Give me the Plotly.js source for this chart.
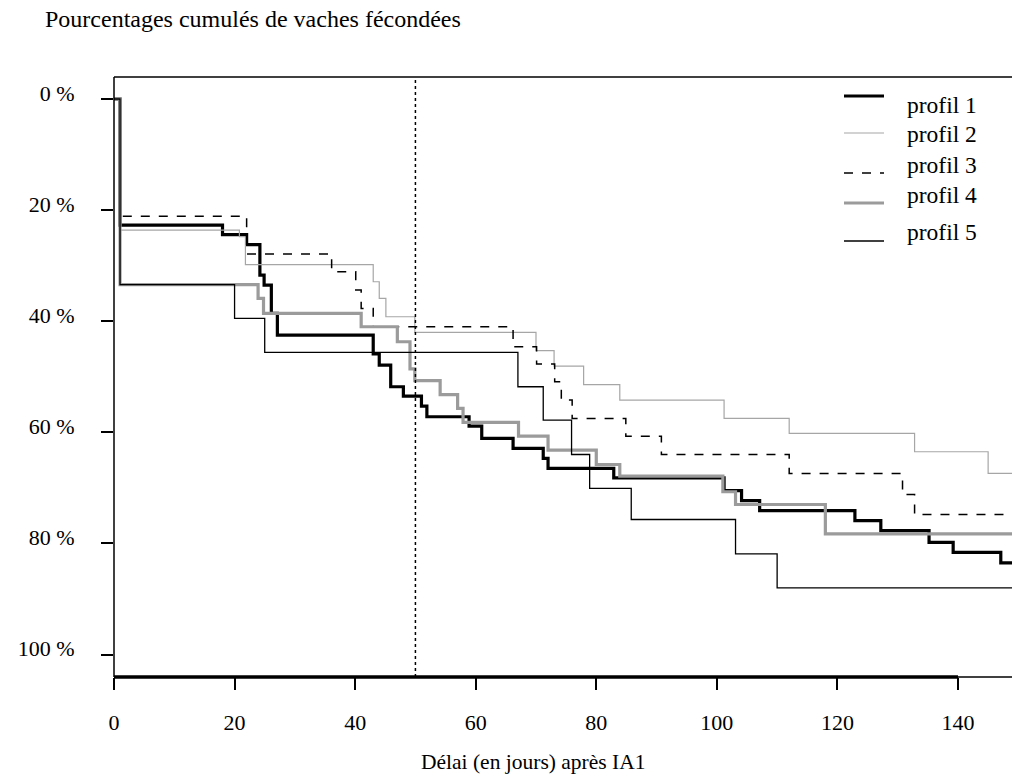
<!DOCTYPE html>
<html>
<head>
<meta charset="utf-8">
<script src="https://cdn.plot.ly/plotly-3.0.1.min.js"></script>
<style>
  html, body { margin: 0; padding: 0; background: #ffffff; }
  #chart { width: 1012px; height: 782px; }
</style>
</head>
<body>
<div id="chart"></div>
<script>
// ---- Data ----
const seriesNames = ["profil 1", "profil 2", "profil 3", "profil 4", "profil 5"];

const days1 = [0, 1, 18, 22, 24.2, 24.9, 26.1, 27.1, 43, 44, 45.9, 48, 51, 51.9, 58.9, 61, 66.2, 71.2, 72, 82.9, 101.2, 104.1, 107.1, 122.9, 127.2, 135.2, 139.2, 147.1, 150];
const pct1  = [0, 22.7, 24.4, 26.2, 31.7, 33.5, 38.6, 42.5, 45.9, 47.9, 51.8, 53.5, 55.3, 57.2, 58.9, 61.1, 62.9, 64.7, 66.5, 68.2, 70.5, 72.3, 74.1, 75.9, 77.7, 79.8, 81.6, 83.5, 83.5];

const days2 = [0, 1, 20.8, 21.8, 43, 44, 45.1, 49.9, 70, 73, 77.9, 83.9, 101.2, 112, 132.8, 145, 150];
const pct2  = [0, 23.6, 24.8, 29.8, 32.9, 35.9, 39.2, 42.0, 45.3, 48.1, 51.4, 54.2, 57.5, 60.2, 63.5, 67.4, 67.4];

const days3 = [0, 1, 22, 36.1, 40.1, 41, 43, 66.2, 70.1, 73.1, 74.2, 76, 84.9, 90.8, 112, 130.8, 132.8, 150];
const pct3  = [0, 21.1, 27.9, 31.1, 34.4, 37.7, 41.0, 44.6, 47.7, 50.9, 54.2, 57.5, 60.7, 64.0, 67.4, 71.2, 74.8, 74.8];

const days4 = [0, 1, 23.9, 24.8, 41, 47, 49.1, 49.9, 54.1, 57, 57.9, 67.1, 72, 80, 83.9, 101, 103.1, 118, 150];
const pct4  = [0, 33.4, 35.9, 38.6, 41.0, 43.7, 48.6, 50.7, 53.2, 55.7, 58.2, 60.7, 63.2, 65.8, 67.9, 70.7, 73.0, 78.3, 78.3];

const days5 = [0, 1, 20, 25, 67, 71.2, 75.9, 78.9, 85.8, 103.1, 110, 150];
const pct5  = [0, 33.4, 39.5, 45.6, 51.8, 57.8, 64.0, 70.1, 75.7, 81.9, 88.0, 88.0];

const xTickVals = [0, 20, 40, 60, 80, 100, 120, 140];
const yTickVals = [0, 20, 40, 60, 80, 100];
const yTickText = ["0 %", "20 %", "40 %", "60 %", "80 %", "100 %"];
const refDay = 50;

const chartTitle = "Pourcentages cumulés de vaches fécondées";
const xTitle = "Délai (en jours) après IA1";

// ---- Styles ----
const FONT = "Liberation Serif, Times New Roman, serif";
const styles = [
  {color: "#000000", width: 3.2, dash: "solid"},
  {color: "#a6a6a6", width: 1.2, dash: "solid"},
  {color: "#000000", width: 1.5, dash: "dash"},
  {color: "#9b9b9b", width: 3.2, dash: "solid"},
  {color: "#000000", width: 1.3, dash: "solid"}
];
const allDays = [days1, days2, days3, days4, days5];
const allPct = [pct1, pct2, pct3, pct4, pct5];

const traces = allDays.map((d, i) => ({
  type: "scatter",
  mode: "lines",
  x: d,
  y: allPct[i],
  name: seriesNames[i],
  line: {shape: "hv", color: styles[i].color, width: styles[i].width, dash: styles[i].dash},
  hoverinfo: "x+y+name",
  showlegend: false
}));

// plot area in page pixels
const L = 114, T = 77, R = 1012, B = 677;
const W = R - L, H = B - T;
const px = v => (v - L) / W;
const py = v => (B - v) / H;

const shapes = [
  // box: left, top, bottom (thin)
  {type: "line", xref: "paper", yref: "paper", x0: 0, x1: 0, y0: 0, y1: 1, line: {color: "#000", width: 1.5}},
  {type: "line", xref: "paper", yref: "paper", x0: 0, x1: 1.01, y0: 1, y1: 1, line: {color: "#000", width: 1.5}},
  {type: "line", xref: "paper", yref: "paper", x0: 0, x1: 1.01, y0: 0, y1: 0, line: {color: "#000", width: 1.5}},
  // thick x axis line spanning the ticks
  {type: "line", xref: "x", yref: "paper", x0: xTickVals[0], x1: xTickVals[xTickVals.length - 1], y0: 0, y1: 0, line: {color: "#000", width: 3.5}},
  // dotted reference line
  {type: "line", xref: "x", yref: "paper", x0: refDay, x1: refDay, y0: 0, y1: 1, line: {color: "#000", width: 1.5, dash: "dot"}}
];

// custom legend
const legLineY = [96, 133, 173, 203, 241];
const legTextY = [105, 134, 165, 195, 232];
const annotations = [];
seriesNames.forEach((n, i) => {
  shapes.push({type: "line", xref: "paper", yref: "paper", x0: px(844), x1: px(884), y0: py(legLineY[i]), y1: py(legLineY[i]),
    line: {color: styles[i].color, width: styles[i].width, dash: styles[i].dash === "dash" ? "dash" : "solid"}});
  annotations.push({xref: "paper", yref: "paper", x: px(905), y: py(legTextY[i]), xanchor: "left", yanchor: "middle",
    text: n, showarrow: false, font: {family: FONT, size: 23.5, color: "#000"}});
});
annotations.push({xref: "paper", yref: "paper", x: px(533), y: py(762), xanchor: "center", yanchor: "middle",
  text: xTitle, showarrow: false, font: {family: FONT, size: 21.5, color: "#000"}});

const layout = {
  width: 1012, height: 782,
  margin: {l: L, r: 1012 - R, t: T, b: 782 - B, pad: 0},
  paper_bgcolor: "#ffffff", plot_bgcolor: "#ffffff",
  font: {family: FONT, size: 22, color: "#000"},
  title: {text: chartTitle, xref: "container", x: 45 / 1012, xanchor: "left", yref: "container", y: 1 - 19 / 782, yanchor: "middle",
    font: {family: FONT, size: 24, color: "#000"}},
  xaxis: {range: [0, 148.96], tickvals: xTickVals, ticks: "outside", ticklen: 12, tickwidth: 1.5, tickcolor: "#000",
    showline: false, showgrid: false, zeroline: false, ticklabelstandoff: 14, tickfont: {family: FONT, size: 22}},
  yaxis: {range: [104.05, -3.96], tickvals: yTickVals, ticktext: yTickText, ticks: "outside", ticklen: 12, tickwidth: 1.5, tickcolor: "#000",
    showline: false, showgrid: false, zeroline: false, ticklabelstandoff: 22, ticklabelshift: 6, tickfont: {family: FONT, size: 22}},
  shapes: shapes,
  annotations: annotations,
  showlegend: false
};

Plotly.newPlot("chart", traces, layout, {displayModeBar: false, responsive: false});
</script>
</body>
</html>
